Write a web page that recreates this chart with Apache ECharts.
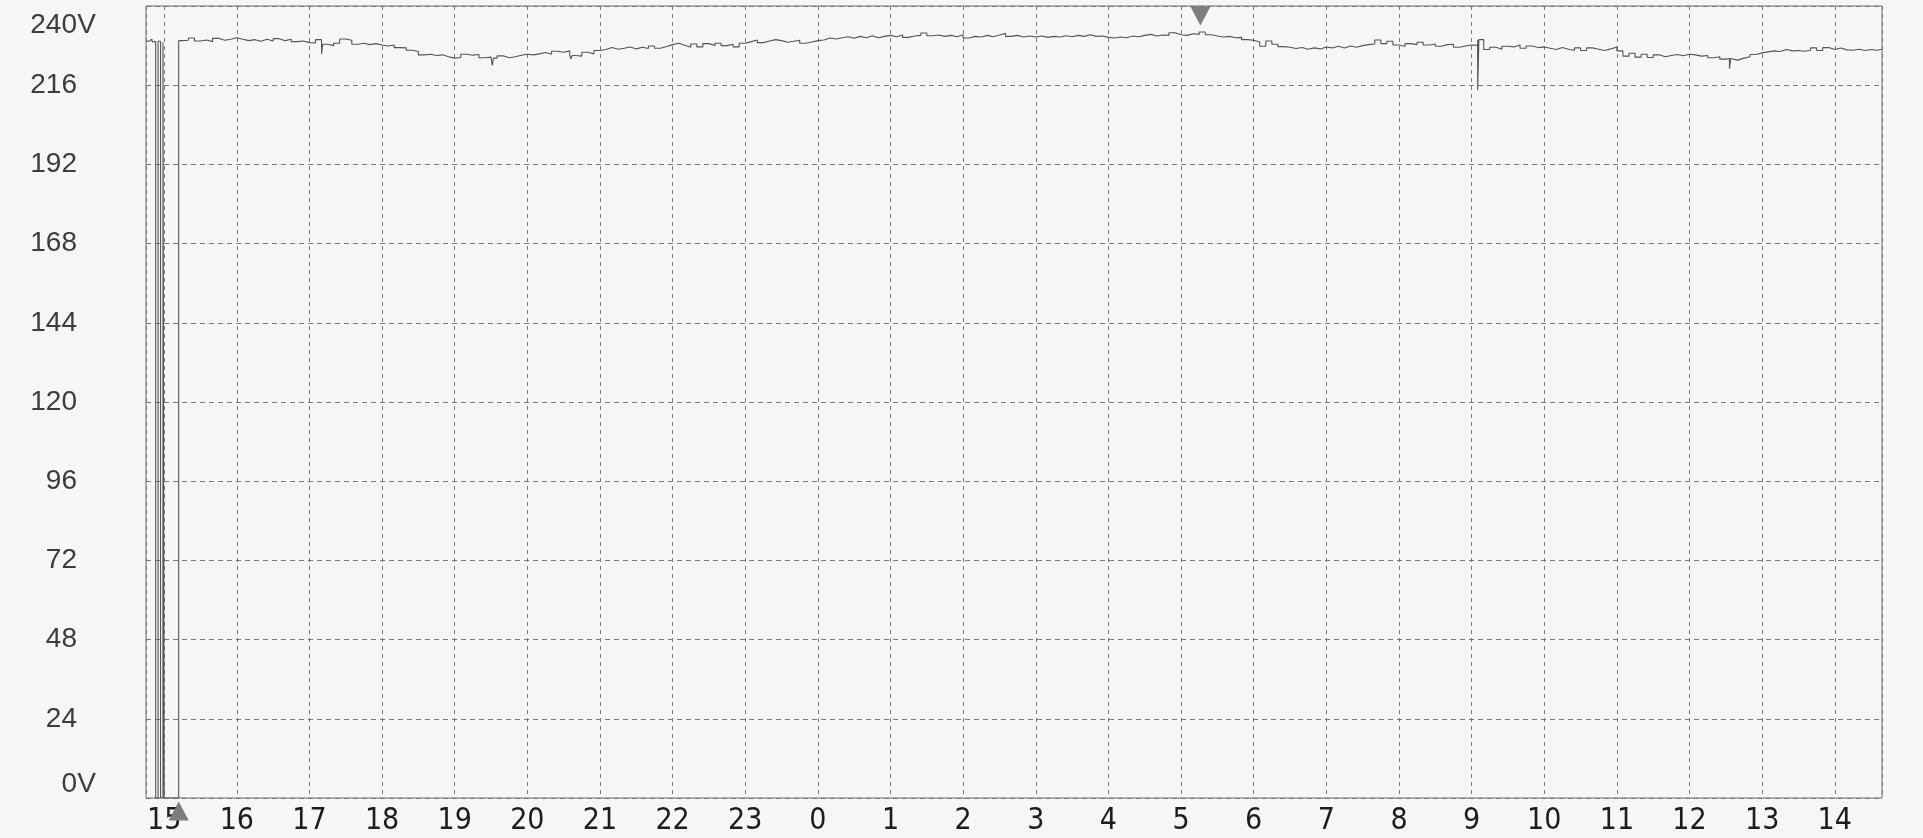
<!DOCTYPE html>
<html><head><meta charset="utf-8">
<script src="https://cdn.jsdelivr.net/npm/echarts@6/dist/echarts.min.js"></script>
<style>html,body{margin:0;padding:0;background:#f6f6f4}#c{width:1923px;height:838px}</style>
</head><body><div id="c"></div><script>
// ---- data ----
const axisStart = '14:45';
const axisEnd = '14:39';           // next day
const yTicks = [0,24,48,72,96,120,144,168,192,216,240];

// supply interruption at the start of the recording
const startTimes = ['14:45','14:47','14:50','14:53','14:55','14:57','14:59','15:00','15:12'];
const startVolts = [229.3, 229.9, 229.2, 0, 229.3, 0, 229.0, 0, 229.5];

// 5-minute samples 15:15 .. 23:55
const eveningVolts = [
  229.6,230.3,229.4,229.7,229.2,230.2,229.6,229.9,230.4,
  229.9,229.5,229.8,229.3,229.9,229.4,230.1,229.5,229.9,229.2,229.4,228.9,
  228.8,229.8,228.4,228.0,228.7,230.0,229.6,228.4,228.7,228.3,228.6,228.2,
  227.9,228.2,227.4,227.3,226.6,226.2,225.2,225.4,225.0,225.2,224.6,224.2,
  224.4,225.4,225.1,225.3,224.3,224.5,224.2,224.9,224.3,224.6,225.1,225.4,
  225.2,225.5,225.9,225.4,226.3,226.0,226.4,225.0,224.8,226.0,225.5,226.5,
  226.8,227.4,226.9,227.2,227.6,227.0,227.5,227.1,227.9,227.2,227.7,228.3,
  228.7,228.1,227.5,228.5,227.6,228.6,228.0,228.7,228.0,228.4,227.6,228.7,
  229.2,229.7,228.9,229.4,229.8,229.5,229.0,229.3,229.6,228.7,229.1,229.5
];
// 5-minute samples 0:00 .. 6:55
const nightVolts = [
  229.7,230.3,230.0,230.4,230.7,230.2,230.8,230.4,231.0,230.4,230.8,231.1,
  230.7,231.2,230.5,230.9,231.1,231.8,231.0,231.2,230.8,231.1,230.7,231.3,
  230.3,230.8,230.6,231.1,230.7,231.2,231.7,230.8,231.1,230.6,230.9,230.6,
  230.9,230.5,230.8,230.6,231.0,230.7,231.1,230.8,231.3,230.8,230.9,230.5,
  230.3,230.6,230.4,230.9,230.7,231.1,231.4,230.9,231.2,231.1,231.9,231.3,
  231.1,231.6,231.4,232.1,231.3,230.9,230.6,230.8,230.4,230.5,229.8,229.6,
  229.1,227.8,229.4,228.4,227.7,227.5,227.1,227.4,226.9,227.3,227.0,227.6
];
// 5-minute samples 7:00 .. 14:35
const dayVolts = [
  227.3,227.8,227.3,227.9,227.5,228.0,228.3,228.5,229.7,228.6,229.3,228.2,
  227.8,228.6,228.3,229.0,228.2,228.5,227.8,228.3,228.4,227.5,227.9,228.2,
  228.1,229.8,226.8,227.5,226.9,227.8,227.6,228.2,227.2,227.9,227.4,227.6,
  227.2,226.8,227.4,226.9,226.6,227.3,226.5,227.3,226.9,226.5,227.0,227.6,
  226.4,224.8,225.7,224.5,225.4,224.4,225.2,224.6,225.0,225.3,224.9,225.4,
  225.2,224.8,225.0,224.3,224.6,223.9,224.1,223.6,224.2,224.6,225.3,225.8,
  226.1,226.4,226.2,226.8,226.4,226.5,226.3,226.6,227.3,226.5,227.4,226.8,
  227.3,226.7,226.6,226.9,226.5,226.8,226.6,226.9
];
// short (1 minute) dips
const spikeTimes = ['17:10','19:31','20:36','09:05','12:33'];
const spikeVolts = [225.5, 222.0, 224.0, 214.5, 221.0];
// event markers
const markerTop = '05:16';
const markerBottom = '15:12';

// ---- build ----
function ts(hhmm){
  const [h,m] = hhmm.split(':').map(Number);
  const next = (h*60+m) < (14*60+45) ? 1 : 0;
  return new Date(2024,0,1+next,h,m).getTime();
}
let pts = [];
startTimes.forEach((t,i)=>pts.push([ts(t), startVolts[i]]));
function addRun(start, arr){ const t0 = ts(start); arr.forEach((v,i)=>pts.push([t0+i*300000, v])); }
addRun('15:15', eveningVolts); addRun('00:00', nightVolts); addRun('07:00', dayVolts);
pts.sort((a,b)=>a[0]-b[0]);
const base = pts.slice();
spikeTimes.forEach((t,i)=>{
  const tt = ts(t);
  let prev = base[0];
  for (const p of base) { if (p[0] <= tt) prev = p; }
  pts.push([tt, spikeVolts[i]]);
  pts.push([tt+60000, prev[1]]);
});
pts.sort((a,b)=>a[0]-b[0]);
pts.push([ts(axisEnd), pts[pts.length-1][1]]);

const FY = '"Liberation Sans",Arial,sans-serif';
const chart = echarts.init(document.getElementById('c'), null, {renderer:'canvas'});
chart.setOption({
  backgroundColor:'#f6f6f4',
  animation:false,
  grid:{left:146, right:41, top:6, bottom:40, show:true, borderColor:'#6a6a6a', borderWidth:1},
  xAxis:{
    type:'time', min:ts(axisStart), max:ts(axisEnd),
    minInterval:3600000, maxInterval:3600000,
    axisLine:{show:false}, axisTick:{show:false},
    splitLine:{show:true, lineStyle:{color:'#7a7a7a', type:[4,4], width:1}},
    axisLabel:{
      formatter:(v)=>{ const d=new Date(v); return d.getMinutes()===0 ? String(d.getHours()) : ''; },
      fontFamily:'"Liberation Sans Narrow","DejaVu Sans Condensed",sans-serif',
      fontSize:30, color:'#1c1c1c', margin:8, hideOverlap:false
    }
  },
  yAxis:{
    type:'value', min:yTicks[0], max:yTicks[yTicks.length-1], interval:yTicks[1]-yTicks[0],
    axisLine:{show:false}, axisTick:{show:false},
    splitLine:{show:true, lineStyle:{color:'#7a7a7a', type:[5,4], width:1}},
    axisLabel:{
      margin:50,
      verticalAlignMinLabel:'bottom', verticalAlignMaxLabel:'top',
      formatter:(v)=> v===yTicks[yTicks.length-1] ? '{nt|'+v+'}{ut|V}'
                    : v===yTicks[0] ? '{n|'+v+'}{u|V}' : '{n|'+v+'}{u| }',
      rich:{
        n:{fontFamily:FY, fontSize:28, color:'#3c3c3c', align:'right'},
        u:{fontFamily:FY, fontSize:28, color:'#3c3c3c', align:'right', width:19},
        nt:{fontFamily:FY, fontSize:28, color:'#3c3c3c', align:'right', lineHeight:38},
        ut:{fontFamily:FY, fontSize:28, color:'#3c3c3c', align:'right', width:19, lineHeight:38}
      }
    }
  },
  series:[{
    type:'line', step:'end', data:pts, symbol:'none', showSymbol:false,
    lineStyle:{color:'#545454', width:1.1},
    markPoint:{
      symbol:'triangle', symbolSize:[20,19], itemStyle:{color:'#7d7d7d'}, label:{show:false},
      data:[
        {coord:[ts(markerTop), yTicks[yTicks.length-1]], symbolRotate:180, symbolOffset:[0,10]},
        {coord:[ts(markerBottom), yTicks[0]], symbolOffset:[0,13]}
      ]
    }
  }]
});
</script></body></html>
